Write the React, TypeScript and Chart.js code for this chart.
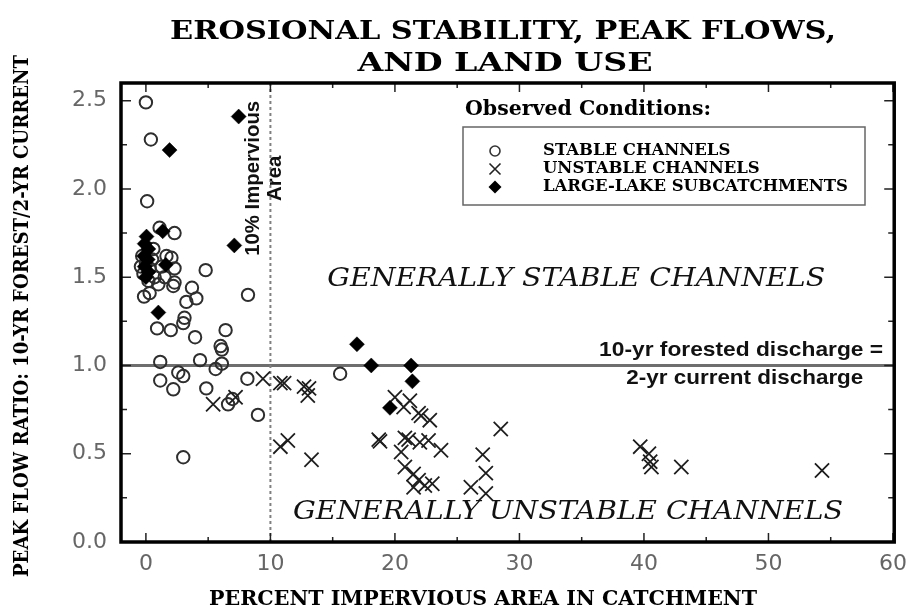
import React, { useEffect, useRef } from 'react';
import { Chart, registerables } from 'chart.js';

Chart.register(...registerables);

// ---- data (percent impervious, peak flow ratio) ----
const stableChannels: [number, number][] = [
  [0.0, 2.49], [0.4, 2.28], [0.1, 1.93], [1.1, 1.78], [2.3, 1.75],
  [-0.3, 1.62], [0.0, 1.58], [0.3, 1.55], [-0.2, 1.52], [0.5, 1.6], [0.7, 1.5], [0.2, 1.48], [-0.4, 1.56], [0.6, 1.66],
  [1.65, 1.62], [2.05, 1.61], [1.25, 1.56], [2.3, 1.55], [1.5, 1.5], [2.3, 1.47], [1.0, 1.46], [2.2, 1.45],
  [4.8, 1.54], [8.2, 1.4], [-0.15, 1.39], [0.3, 1.41], [3.7, 1.44], [4.05, 1.38], [3.25, 1.36],
  [3.1, 1.27], [3.0, 1.24], [0.9, 1.21], [2.0, 1.2], [3.95, 1.16], [6.4, 1.2], [6.1, 1.09], [6.0, 1.11],
  [1.15, 1.02], [4.35, 1.03], [5.6, 0.98], [6.1, 1.01], [1.15, 0.915], [2.6, 0.96], [3.0, 0.94],
  [2.2, 0.865], [4.85, 0.87], [6.6, 0.78], [6.95, 0.81], [8.15, 0.925], [9.0, 0.72], [3.0, 0.48], [15.6, 0.953],
];

const unstableChannels: [number, number][] = [
  [5.4, 0.78], [7.2, 0.82], [9.4, 0.925], [10.8, 0.9], [11.1, 0.9], [12.7, 0.88], [13.1, 0.87], [13.0, 0.83],
  [10.8, 0.54], [11.4, 0.575], [13.3, 0.466],
  [20.0, 0.82], [21.2, 0.8], [20.7, 0.765], [21.9, 0.73], [22.1, 0.715], [22.8, 0.69],
  [18.7, 0.58], [18.8, 0.57], [20.8, 0.59], [21.1, 0.58], [20.5, 0.51], [22.0, 0.565], [22.7, 0.575], [23.7, 0.52],
  [20.8, 0.425], [21.5, 0.385], [21.9, 0.35], [22.4, 0.32], [23.0, 0.33], [21.5, 0.31],
  [27.05, 0.495], [27.3, 0.39], [26.1, 0.31], [27.3, 0.275], [28.5, 0.64],
  [39.7, 0.54], [40.4, 0.5], [40.5, 0.455], [40.6, 0.425], [43.0, 0.425], [54.3, 0.405],
];

const largeLakeSubcatchments: [number, number][] = [
  [7.45, 2.41], [1.9, 2.22], [7.1, 1.68], [1.35, 1.76],
  [0.05, 1.73], [-0.1, 1.69], [0.2, 1.66], [-0.15, 1.62], [0.15, 1.6], [-0.1, 1.56], [0.2, 1.53], [0.0, 1.5],
  [1.6, 1.57], [1.0, 1.3],
  [16.95, 1.12], [18.1, 1.0], [21.3, 1.0], [21.4, 0.91], [19.6, 0.76],
];

const xTickValues = [0, 10, 20, 30, 40, 50, 60];
const xMinorTicks = [5, 15, 25, 35, 45, 55];
const yTickValues = [0, 0.5, 1.0, 1.5, 2.0, 2.5];
const yMinorTicks = [0.25, 0.75, 1.25, 1.75, 2.25];

const referenceRatio = 1.0;
const imperviousThreshold = 10;

const titleLines = ['EROSIONAL STABILITY, PEAK FLOWS,', 'AND LAND USE'];
const xAxisTitle = 'PERCENT IMPERVIOUS AREA IN CATCHMENT';
const yAxisTitle = 'PEAK FLOW RATIO: 10-YR FOREST/2-YR CURRENT';
const legendTitle = 'Observed Conditions:';
const legendLabels = ['STABLE CHANNELS', 'UNSTABLE CHANNELS', 'LARGE-LAKE SUBCATCHMENTS'];
const stableText = 'GENERALLY STABLE CHANNELS';
const unstableText = 'GENERALLY UNSTABLE CHANNELS';
const dischargeLines = ['10-yr forested discharge =', '2-yr current discharge'];
const thresholdLines = ['10% Impervious', 'Area'];

const toPts = (arr: [number, number][]) => arr.map(([x, y]) => ({ x, y }));

function fitText(
  ctx: CanvasRenderingContext2D,
  text: string,
  cx: number,
  cy: number,
  font: string,
  width: number | null,
  color: string,
  rotate = 0,
  align: CanvasTextAlign = 'center',
  sxFixed?: number
) {
  ctx.save();
  ctx.font = font;
  ctx.fillStyle = color;
  ctx.textAlign = align;
  ctx.textBaseline = 'middle';
  const w = ctx.measureText(text).width;
  const sx = sxFixed != null ? sxFixed : width ? width / w : 1;
  ctx.translate(cx, cy);
  if (rotate) ctx.rotate(rotate);
  ctx.scale(sx, 1);
  ctx.fillText(text, 0, 0);
  ctx.restore();
  return sx;
}

function drawCircle(ctx: CanvasRenderingContext2D, x: number, y: number, r: number) {
  ctx.beginPath();
  ctx.arc(x, y, r, 0, Math.PI * 2);
  ctx.stroke();
}
function drawX(ctx: CanvasRenderingContext2D, x: number, y: number, h: number) {
  ctx.beginPath();
  ctx.moveTo(x - h, y - h); ctx.lineTo(x + h, y + h);
  ctx.moveTo(x - h, y + h); ctx.lineTo(x + h, y - h);
  ctx.stroke();
}
function drawDiamond(ctx: CanvasRenderingContext2D, x: number, y: number, r: number) {
  ctx.beginPath();
  ctx.moveTo(x - r, y); ctx.lineTo(x, y - r); ctx.lineTo(x + r, y); ctx.lineTo(x, y + r);
  ctx.closePath();
  ctx.fill();
}

const overlayPlugin = {
  id: 'overlay',
  beforeDatasetsDraw(chart: any) {
    const { ctx, chartArea: a, scales } = chart;
    const x = scales.x, y = scales.y;
    ctx.save();
    const yy = y.getPixelForValue(referenceRatio);
    ctx.strokeStyle = '#6e6e6e';
    ctx.lineWidth = 3;
    ctx.beginPath();
    ctx.moveTo(a.left, yy);
    ctx.lineTo(a.right, yy);
    ctx.stroke();
    const xx = x.getPixelForValue(imperviousThreshold);
    ctx.strokeStyle = '#808080';
    ctx.lineWidth = 2;
    ctx.setLineDash([3, 3]);
    ctx.beginPath();
    ctx.moveTo(xx, a.top);
    ctx.lineTo(xx, a.bottom);
    ctx.stroke();
    ctx.restore();
  },
  afterDatasetsDraw(chart: any) {
    const { ctx, chartArea: a, scales } = chart;
    const x = scales.x, y = scales.y;

    // region annotations
    fitText(ctx, stableText, x.getPixelForValue(34.56), y.getPixelForValue(1.49),
      'italic 26px "DejaVu Serif"', 498, '#111');
    fitText(ctx, unstableText, x.getPixelForValue(33.9), y.getPixelForValue(0.17),
      'italic 26px "DejaVu Serif"', 550, '#111');

    // discharge note
    fitText(ctx, dischargeLines[0], x.getPixelForValue(47.8), y.getPixelForValue(1.085),
      'bold 21px "Liberation Sans"', 284, '#111');
    fitText(ctx, dischargeLines[1], x.getPixelForValue(48.1), y.getPixelForValue(0.93),
      'bold 21px "Liberation Sans"', 237, '#111');

    // threshold label (rotated)
    const sxT = fitText(ctx, thresholdLines[0], x.getPixelForValue(8.66), y.getPixelForValue(2.06),
      'bold 20px "Liberation Sans"', 155, '#111', -Math.PI / 2);
    fitText(ctx, thresholdLines[1], x.getPixelForValue(10.4), y.getPixelForValue(2.06),
      'bold 20px "Liberation Sans"', null, '#111', -Math.PI / 2, 'center', sxT);

    // legend
    fitText(ctx, legendTitle, 465, 110, 'bold 20px "DejaVu Serif"', 246, '#000', 0, 'left');
    ctx.save();
    ctx.strokeStyle = '#666';
    ctx.lineWidth = 1.5;
    ctx.strokeRect(463, 127, 402, 78);
    ctx.restore();
    ctx.save();
    ctx.font = 'bold 16px "DejaVu Serif"';
    const lw = ctx.measureText(legendLabels[2]).width;
    ctx.restore();
    const lsx = 305 / lw;
    const rows = [151, 169, 187];
    legendLabels.forEach((t, i) => {
      fitText(ctx, t, 543, rows[i], 'bold 16px "DejaVu Serif"', null, '#000', 0, 'left', lsx);
    });
    ctx.save();
    ctx.strokeStyle = '#333';
    ctx.lineWidth = 1.6;
    drawCircle(ctx, 495, rows[0], 5);
    ctx.strokeStyle = '#222';
    drawX(ctx, 495, rows[1], 5.5);
    ctx.fillStyle = '#000';
    drawDiamond(ctx, 495, rows[2], 6.5);
    ctx.restore();

    // ticks (inward)
    ctx.save();
    ctx.strokeStyle = '#222';
    ctx.lineWidth = 1.5;
    ctx.beginPath();
    const xt = (vals: number[], len: number) => vals.forEach((v) => {
      const px = x.getPixelForValue(v);
      ctx.moveTo(px, a.bottom); ctx.lineTo(px, a.bottom - len);
      ctx.moveTo(px, a.top); ctx.lineTo(px, a.top + len);
    });
    const yt = (vals: number[], len: number) => vals.forEach((v) => {
      const py = y.getPixelForValue(v);
      ctx.moveTo(a.left, py); ctx.lineTo(a.left + len, py);
      ctx.moveTo(a.right, py); ctx.lineTo(a.right - len, py);
    });
    xt(xTickValues, 9); xt(xMinorTicks, 5);
    yt(yTickValues, 10); yt(yMinorTicks, 6);
    ctx.stroke();
    ctx.restore();

    // frame
    ctx.save();
    ctx.strokeStyle = '#000';
    ctx.lineWidth = 3.5;
    ctx.strokeRect(a.left, a.top, a.right - a.left, a.bottom - a.top);
    ctx.restore();

    // titles
    fitText(ctx, titleLines[0], 503, 32, 'bold 26px "DejaVu Serif"', 666, '#000');
    fitText(ctx, titleLines[1], 505, 64, 'bold 26px "DejaVu Serif"', 295, '#000');
    fitText(ctx, xAxisTitle, 483, 600, 'bold 21px "DejaVu Serif"', 548, '#000');
    fitText(ctx, yAxisTitle, 23, 316, 'bold 20px "DejaVu Serif"', 522, '#000', -Math.PI / 2);
  },
};

export default function App() {
  const ref = useRef<HTMLCanvasElement | null>(null);
  useEffect(() => {
    if (!ref.current) return;
    const chart = new Chart(ref.current, {
      type: 'scatter',
      data: {
        datasets: [
          {
            label: legendLabels[2],
            data: toPts(largeLakeSubcatchments),
            pointStyle: 'rectRot',
            pointRadius: 7.5,
            backgroundColor: '#000',
            borderColor: '#000',
            borderWidth: 0.5,
            order: 0,
          },
          {
            label: legendLabels[1],
            data: toPts(unstableChannels),
            pointStyle: 'crossRot',
            pointRadius: 10,
            backgroundColor: '#1e1e1e',
            borderColor: '#1e1e1e',
            borderWidth: 1.8,
            order: 1,
          },
          {
            label: legendLabels[0],
            data: toPts(stableChannels),
            pointStyle: 'circle',
            pointRadius: 6.2,
            backgroundColor: 'rgba(255,255,255,0)',
            borderColor: '#2e2e2e',
            borderWidth: 2,
            order: 2,
          },
        ],
      },
      options: {
        responsive: false,
        animation: false,
        devicePixelRatio: 1,
        layout: { padding: { top: 83, right: 17, bottom: 0, left: 0 } },
        plugins: {
          legend: { display: false },
          title: { display: false },
          tooltip: { enabled: false },
        },
        scales: {
          x: {
            type: 'linear',
            min: -2,
            max: 60.1,
            afterBuildTicks: (s: any) => { s.ticks = xTickValues.map((v) => ({ value: v })); },
            afterFit: (s: any) => { s.height = 69; },
            ticks: {
              font: { family: 'DejaVu Sans', size: 22 },
              color: '#666',
              padding: 9,
              maxRotation: 0,
              autoSkip: false,
              callback: (v: any) => String(v),
            },
            grid: { display: false, drawTicks: false },
            border: { display: false },
          },
          y: {
            type: 'linear',
            min: 0,
            max: 2.6,
            afterBuildTicks: (s: any) => { s.ticks = yTickValues.map((v) => ({ value: v })); },
            afterFit: (s: any) => { s.width = 121; },
            ticks: {
              font: { family: 'DejaVu Sans', size: 22 },
              color: '#666',
              padding: 14,
              autoSkip: false,
              callback: (v: any) => Number(v).toFixed(1),
            },
            grid: { display: false, drawTicks: false },
            border: { display: false },
          },
        },
      },
      plugins: [overlayPlugin],
    });
    return () => chart.destroy();
  }, []);

  return (
    <div style={{ position: 'absolute', left: 0, top: 0, width: 916, height: 611, background: '#fff' }}>
      <canvas ref={ref} width={916} height={611} style={{ display: 'block' }} />
    </div>
  );
}
